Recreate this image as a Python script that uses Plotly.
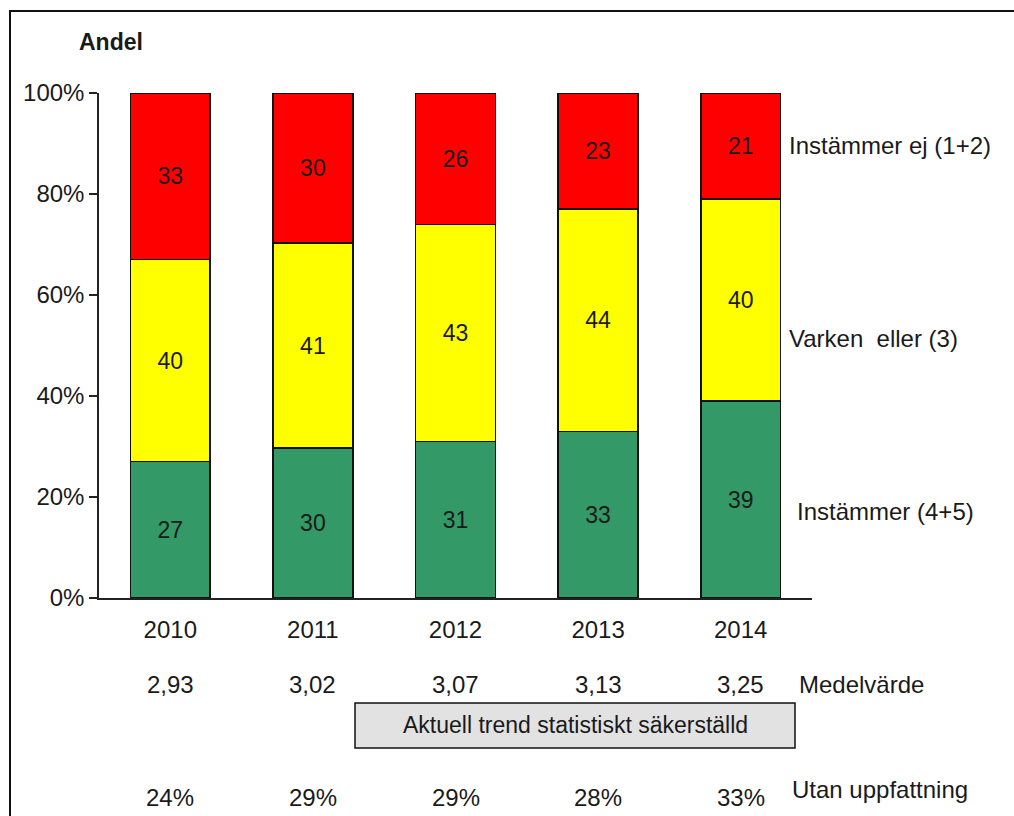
import plotly.graph_objects as go

years = ["2010", "2011", "2012", "2013", "2014"]
instammer = [27, 30, 31, 33, 39]          # (4+5)
varken = [40, 41, 43, 44, 40]             # (3)
instammer_ej = [33, 30, 26, 23, 21]       # (1+2)
medelvarde = ["2,93", "3,02", "3,07", "3,13", "3,25"]
utan_uppfattning = ["24%", "29%", "29%", "28%", "33%"]
series_names = ["Instämmer (4+5)", "Varken  eller (3)", "Instämmer ej (1+2)"]
y_ticks = [0, 20, 40, 60, 80, 100]
y_tick_labels = ["0%", "20%", "40%", "60%", "80%", "100%"]

W, H = 1014, 816
L, R, T, B = 99, 812, 93, 598
PW, PH = R - L, B - T


def px(x):
    return (x - L) / PW


def py(y):
    return (B - y) / PH


FONT = "Liberation Sans, Arial, sans-serif"
TXT = "#1a1a1a"
FS = 24

colors = ["#339966", "#FFFF00", "#FF0000"]
fig = go.Figure()
for name, vals, col in zip(series_names, [instammer, varken, instammer_ej], colors):
    fig.add_trace(go.Bar(
        x=years, y=vals, name=name, text=[str(v) for v in vals],
        textposition="inside", insidetextanchor="middle",
        textfont=dict(family=FONT, size=FS - 1, color=TXT),
        marker=dict(color=col, line=dict(color="#111111", width=1.5)),
        hoverinfo="skip",
    ))

annotations = []
# right-side series labels
for name, yy in zip(series_names, [511, 338, 145]):
    xpos = 795 if name.startswith("Instämmer (") else 787
    annotations.append(dict(text=name, xref="paper", yref="paper", x=px(xpos), y=py(yy),
                            xanchor="left", yanchor="middle", showarrow=False,
                            font=dict(family=FONT, size=FS, color=TXT)))
# mean row
for i, m in enumerate(medelvarde):
    annotations.append(dict(text=m, xref="x", yref="paper", x=i, y=py(684),
                            xanchor="center", yanchor="middle", showarrow=False,
                            font=dict(family=FONT, size=FS, color=TXT)))
annotations.append(dict(text="Medelvärde", xref="paper", yref="paper", x=px(797), y=py(684),
                        xanchor="left", yanchor="middle", showarrow=False,
                        font=dict(family=FONT, size=FS, color=TXT)))
# no-opinion row
for i, u in enumerate(utan_uppfattning):
    annotations.append(dict(text=u, xref="x", yref="paper", x=i, y=py(797),
                            xanchor="center", yanchor="middle", showarrow=False,
                            font=dict(family=FONT, size=FS, color=TXT)))
annotations.append(dict(text="Utan uppfattning", xref="paper", yref="paper", x=px(790), y=py(789),
                        xanchor="left", yanchor="middle", showarrow=False,
                        font=dict(family=FONT, size=FS, color=TXT)))
# trend box text
annotations.append(dict(text="Aktuell trend statistiskt säkerställd", xref="paper", yref="paper",
                        x=px(575), y=py(725), xanchor="center", yanchor="middle", showarrow=False,
                        font=dict(family=FONT, size=FS - 1, color=TXT)))
# Andel
annotations.append(dict(text="<b>Andel</b>", xref="paper", yref="paper", x=px(111), y=py(42),
                        xanchor="center", yanchor="middle", showarrow=False,
                        font=dict(family=FONT, size=23, color=TXT)))

shapes = [
    # trend box
    dict(type="rect", xref="paper", yref="paper", x0=px(355), x1=px(795), y0=py(748), y1=py(703),
         fillcolor="#e2e2e2", line=dict(color="#111111", width=1.5), layer="below"),
    # outer frame (left and top)
    dict(type="line", xref="paper", yref="paper", x0=px(10), x1=px(10), y0=py(10), y1=py(820),
         line=dict(color="#111111", width=2)),
    dict(type="line", xref="paper", yref="paper", x0=px(9), x1=px(1020), y0=py(11), y1=py(11),
         line=dict(color="#111111", width=2)),
]

fig.update_layout(
    width=W, height=H,
    margin=dict(l=L, r=W - R, t=T, b=H - B, pad=0),
    barmode="stack", barnorm="percent", bargap=0.44,
    plot_bgcolor="white", paper_bgcolor="white",
    showlegend=False,
    annotations=annotations, shapes=shapes,
    font=dict(family=FONT, size=FS, color=TXT),
    xaxis=dict(type="category", showgrid=False, showline=True, linecolor="#222222", linewidth=1.5,
               ticks="outside", ticklen=9, tickcolor="rgba(0,0,0,0)",
               tickfont=dict(family=FONT, size=FS, color=TXT)),
    yaxis=dict(range=[0, 100], tickvals=y_ticks, ticktext=y_tick_labels, showgrid=False,
               showline=True, linecolor="#222222", linewidth=1.5, ticks="outside", ticklen=8,
               tickcolor="#222222", tickwidth=1.5, zeroline=False,
               tickfont=dict(family=FONT, size=FS, color=TXT)),
)

fig.write_html("out.html", config={"displayModeBar": False},
               post_script="document.body.style.margin='0px';")
